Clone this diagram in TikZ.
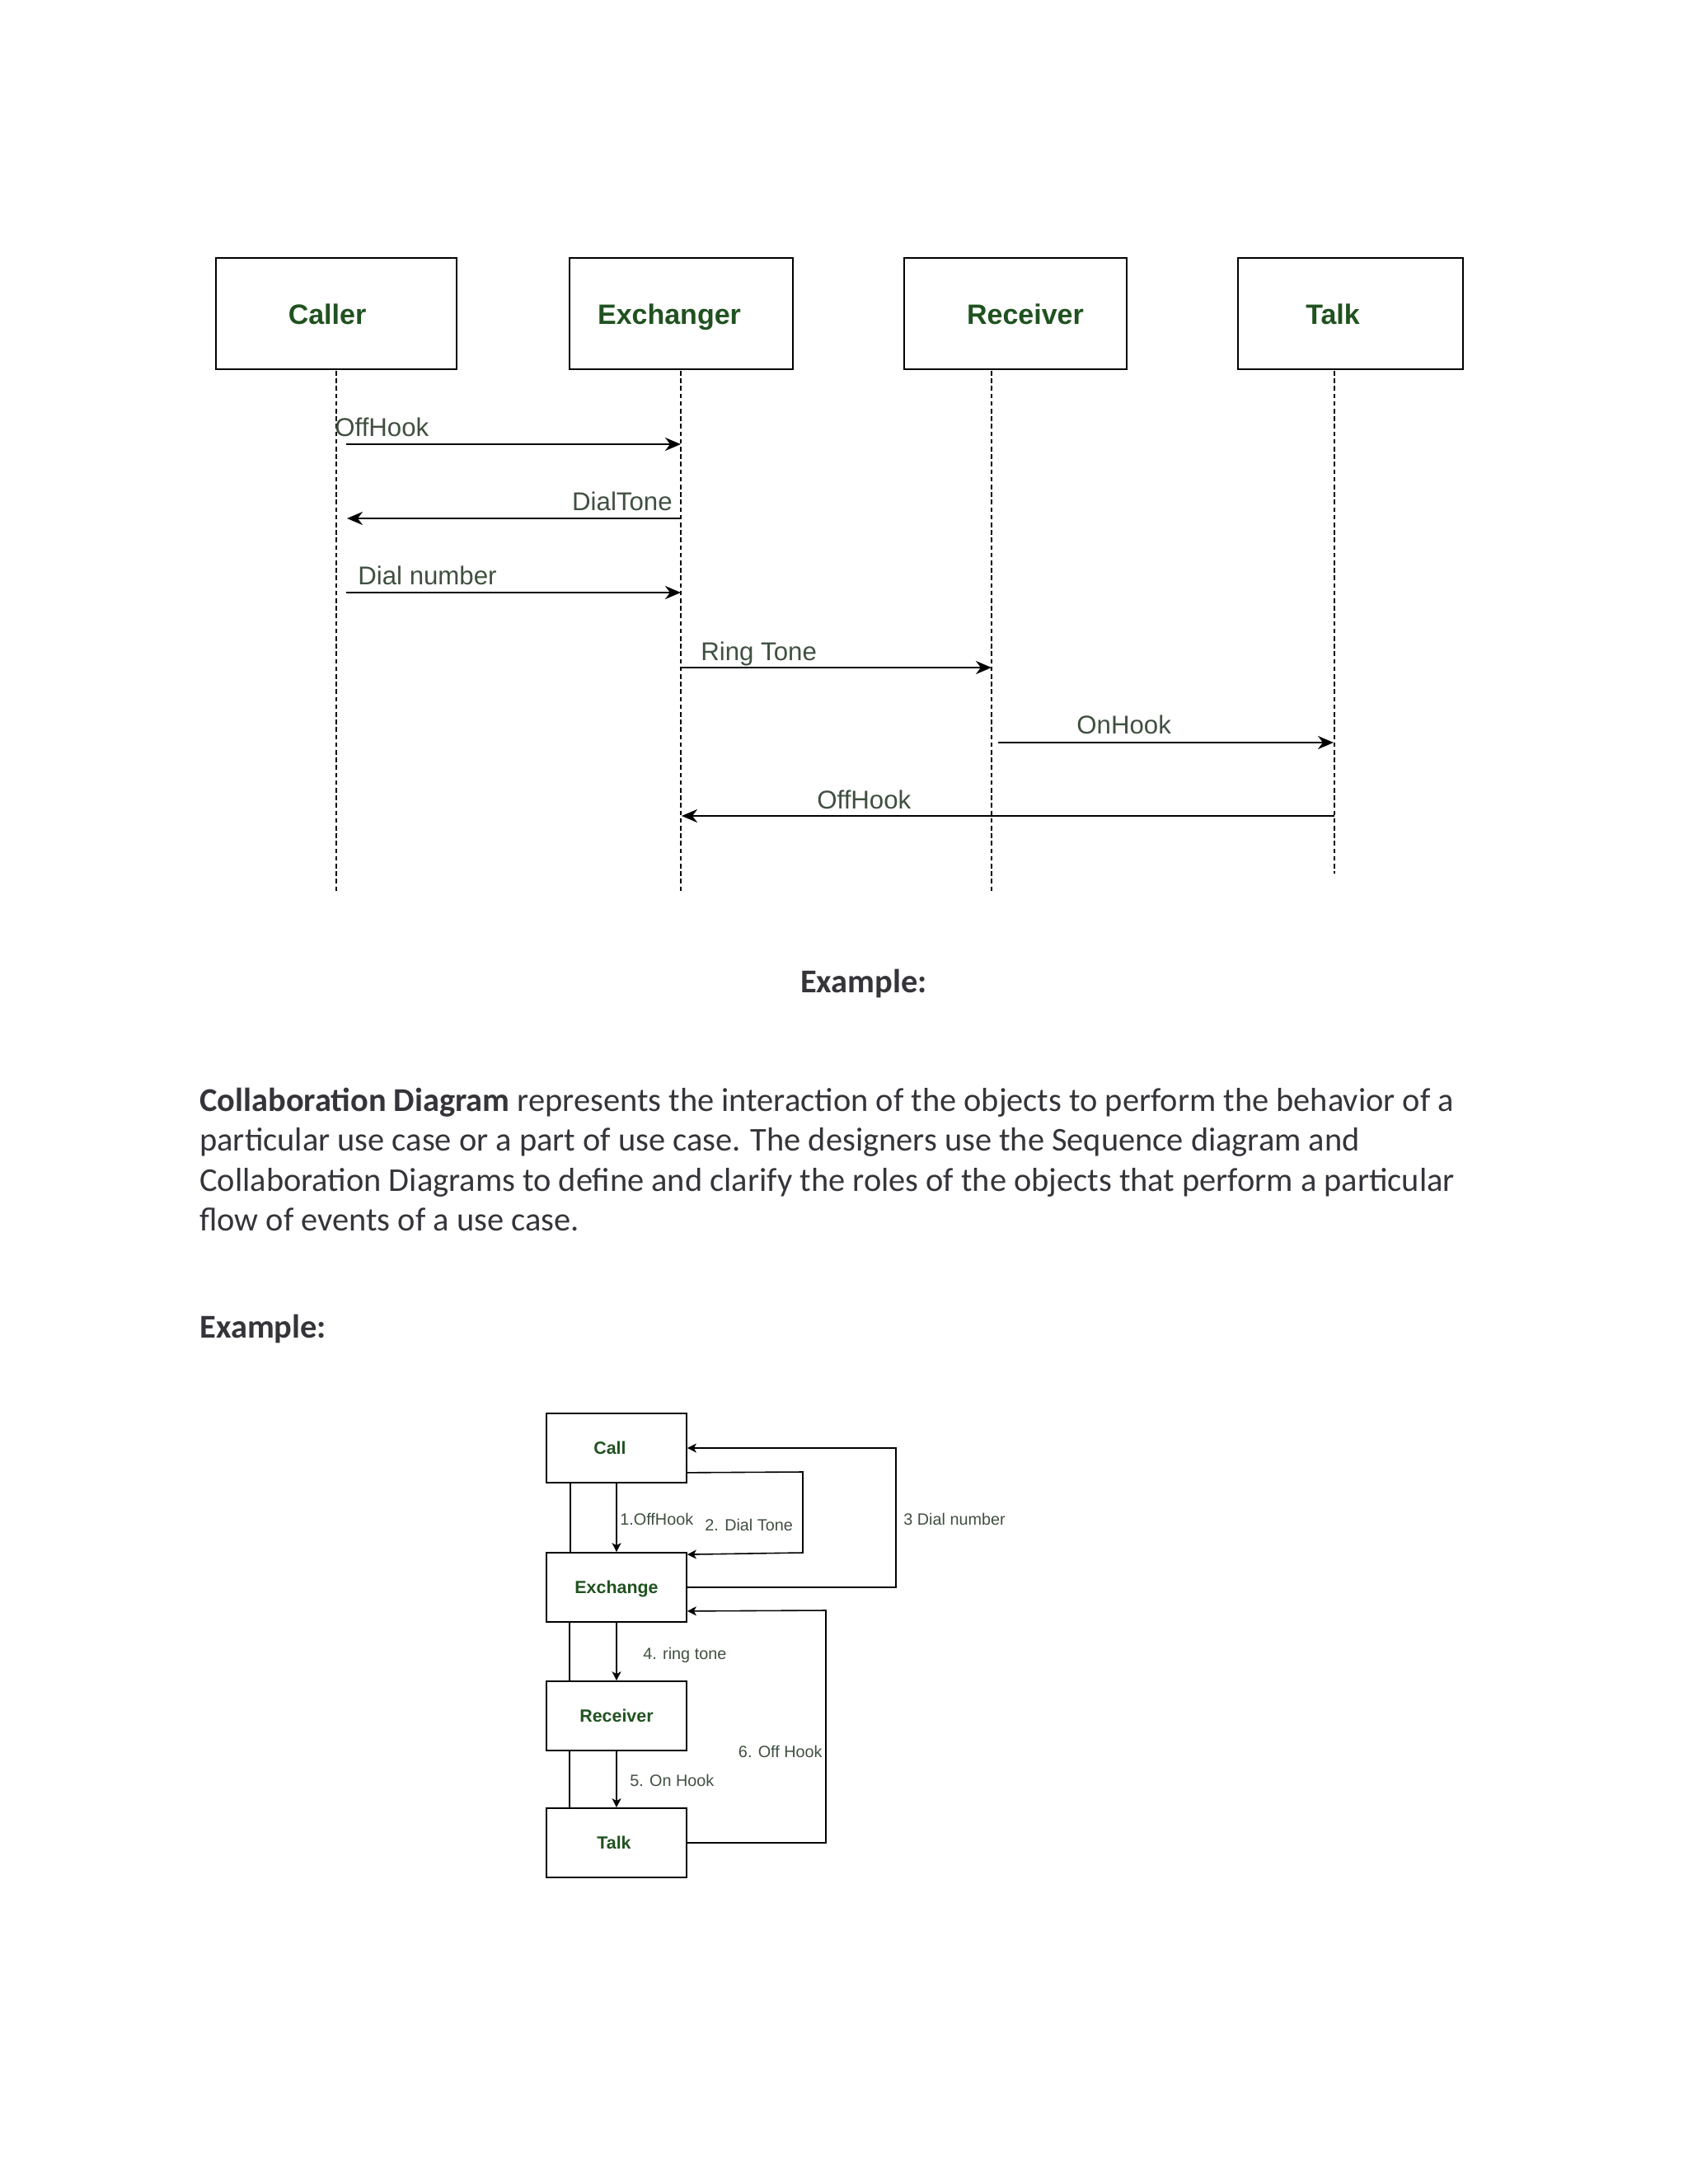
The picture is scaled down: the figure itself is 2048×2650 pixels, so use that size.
\documentclass[tikz,border=0pt]{standalone}
\usepackage{fontspec}
\setmainfont{Liberation Sans}
\newfontfamily\calib{Carlito}
\usetikzlibrary{arrows.meta}
\definecolor{tgreen}{RGB}{32,82,32}
\definecolor{lblcol}{RGB}{64,80,64}
\definecolor{bodycol}{RGB}{52,52,58}
\tikzset{
  sbox/.style={draw=black, line width=1.3pt, fill=white, inner sep=0pt, minimum height=67.5pt},
  stitle/.style={anchor=base, inner sep=0pt, text=tgreen, font=\fontsize{17pt}{20pt}\selectfont\bfseries},
  life/.style={draw=black, line width=0.9pt, dash pattern=on 2.8pt off 1.8pt},
  msg/.style={draw=black, line width=1.25pt, -{Stealth[length=9.5pt,width=8pt,inset=3pt]}},
  slabel/.style={inner sep=0pt, text=lblcol, font=\fontsize{15.6pt}{18pt}\selectfont},
  body/.style={anchor=base west, inner sep=0pt, text=bodycol, font=\calib\fontsize{20.2pt}{24pt}\selectfont},
  cbox/.style={draw=black, line width=0.85pt, fill=white, inner sep=0pt, minimum width=85pt, minimum height=42pt,
     text=tgreen, font=\fontsize{10.7pt}{12pt}\selectfont\bfseries, text height=0.716em, text depth=0pt},
  cline/.style={draw=black, line width=0.8pt},
  carr/.style={draw=black, line width=0.8pt, -{Stealth[length=5.5pt,width=5.5pt,inset=1.5pt]}},
  clabel/.style={inner sep=0pt, text=lblcol, font=\fontsize{9.9pt}{11pt}\selectfont}
}
\begin{document}
\begin{tikzpicture}[x=0.5pt,y=-0.5pt]
\useasboundingbox (0,0) rectangle (2048,2650);
\fill[white] (0,0) rectangle (2048,2650);

% ---------- Sequence diagram ----------
\node[sbox, minimum width=146pt] (caller) at (408,380.5) {};
\node[sbox, minimum width=135.5pt] (exchanger) at (826.5,380.5) {};
\node[sbox, minimum width=135pt] (receiver) at (1232,380.5) {};
\node[sbox, minimum width=136.5pt] (talk) at (1638.5,380.5) {};
\node[stitle] (callerT) at (397,393) {Caller};
\node[stitle] (exchangerT) at (812,393) {Exchanger};
\node[stitle] (receiverT) at (1244,393) {Receiver};
\node[stitle] (talkT) at (1617,393) {Talk};

\coordinate (callerTop) at (408,450);
\coordinate (callerBot) at (408,1083);
\coordinate (exchTop) at (826,450);
\coordinate (exchBot) at (826,1083);
\coordinate (rcvTop) at (1203,450);
\coordinate (rcvBot) at (1203,1083);
\coordinate (talkTop) at (1619,450);
\coordinate (talkBot) at (1619,1060);
\draw[life] (callerTop) -- (callerBot);
\draw[life] (exchTop) -- (exchBot);
\draw[life] (rcvTop) -- (rcvBot);
\draw[life] (talkTop) -- (talkBot);

\coordinate (m1a) at (420,539);  \coordinate (m1b) at (826,539);
\coordinate (m2a) at (826,629);  \coordinate (m2b) at (421,629);
\coordinate (m3a) at (420,719);  \coordinate (m3b) at (826,719);
\coordinate (m4a) at (826,810);  \coordinate (m4b) at (1203,810);
\coordinate (m5a) at (1211,901); \coordinate (m5b) at (1618,901);
\coordinate (m6a) at (1619,990); \coordinate (m6b) at (827,990);
\draw[msg] (m1a) -- (m1b);
\draw[msg] (m2a) -- (m2b);
\draw[msg] (m3a) -- (m3b);
\draw[msg] (m4a) -- (m4b);
\draw[msg] (m5a) -- (m5b);
\draw[msg] (m6a) -- (m6b);

\node[slabel, anchor=base west] (l1) at (406,529) {OffHook};
\node[slabel, anchor=base east] (l2) at (816,619) {DialTone};
\node[slabel, anchor=base west] (l3) at (434,709) {Dial number};
\node[slabel, anchor=base west] (l4) at (850,801) {Ring Tone};
\node[slabel, anchor=base west] (l5) at (1306,890) {OnHook};
\node[slabel, anchor=base west] (l6) at (991,981) {OffHook};

% ---------- Text ----------
\node[body, anchor=base, font=\calib\fontsize{20.2pt}{24pt}\selectfont\bfseries] (ex1) at (1048,1204) {Example:};
\node[body] (p1) at (242,1348) {\textbf{Collaboration Diagram} represents the interaction of the objects to perform the behavior of a};
\node[body] (p2) at (242,1396.5) {particular use case or a part of use case. The designers use the Sequence diagram and};
\node[body] (p3) at (242,1445) {Collaboration Diagrams to define and clarify the roles of the objects that perform a particular};
\node[body] (p4) at (242,1493.5) {flow of events of a use case.};
\node[body, font=\calib\fontsize{20.2pt}{24pt}\selectfont\bfseries] (ex2) at (242,1623) {Example:};

% ---------- Collaboration diagram ----------
\node[cbox] (call) at (748,1757) {Call\hspace*{8pt}};
\node[cbox] (exch) at (748,1926) {Exchange};
\node[cbox] (rcv) at (748,2082) {Receiver};
\node[cbox] (tlk) at (748,2236) {Talk\hspace*{3pt}};

\draw[cline] ([xshift=15pt]call.south west) -- ([xshift=15pt]exch.north west);
\draw[cline] ([xshift=14.5pt]exch.south west) -- ([xshift=14.5pt]rcv.north west);
\draw[cline] ([xshift=14.5pt]rcv.south west) -- ([xshift=14.5pt]tlk.north west);

\draw[carr] (call.south) -- (exch.north);
\draw[carr] (exch.south) -- (rcv.north);
\draw[carr] (rcv.south) -- (tlk.north);

\coordinate (dt1) at (974,1786);
\coordinate (dt2) at (974,1884);
\draw[carr] ([yshift=6.5pt]call.south east) -- (dt1) -- (dt2) -- ([yshift=-1.5pt]exch.north east);

\coordinate (dn1) at (1087,1926);
\coordinate (dn2) at (1087,1757);
\draw[carr] (exch.east) -- (dn1) -- (dn2) -- (call.east);

\coordinate (oh1) at (1002,2236);
\coordinate (oh2) at (1002,1954);
\draw[carr] (tlk.east) -- (oh1) -- (oh2) -- ([yshift=7pt]exch.south east);

\node[clabel, anchor=base west] (c1) at (752,1850) {1.OffHook};
\node[clabel, anchor=base west] (c2) at (855,1857) {2. Dial Tone};
\node[clabel, anchor=base west] (c3) at (1096,1850) {3 Dial number};
\node[clabel, anchor=base west] (c4) at (780,2013) {4. ring tone};
\node[clabel, anchor=base west] (c5) at (764,2167) {5. On Hook};
\node[clabel, anchor=base east] (c6) at (998,2132) {6. Off Hook};
\end{tikzpicture}
\end{document}
